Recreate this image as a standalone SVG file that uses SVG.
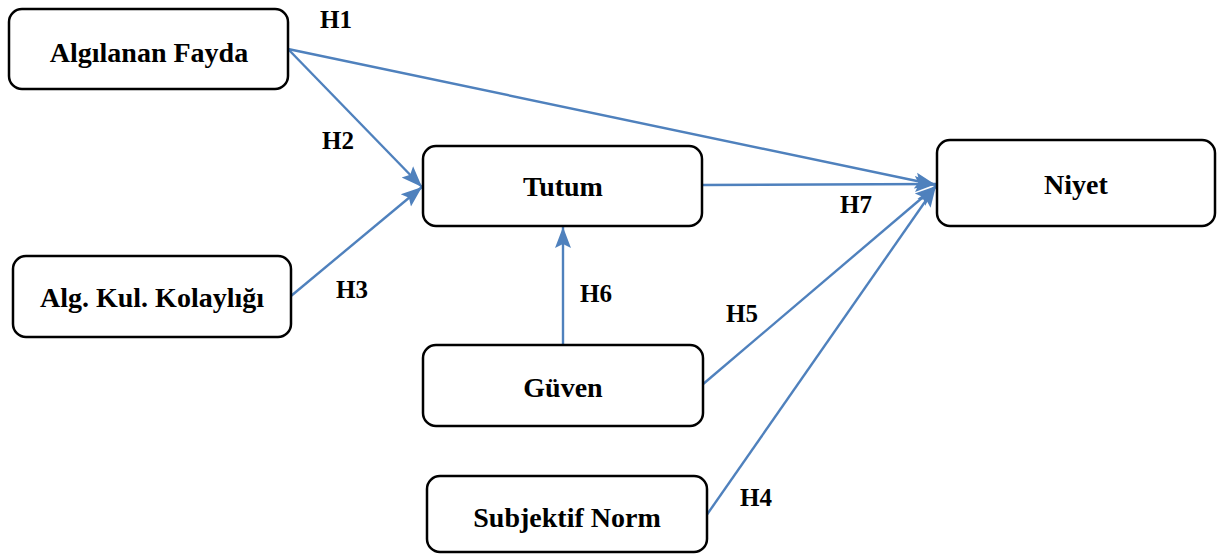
<svg xmlns="http://www.w3.org/2000/svg" width="1220" height="554" viewBox="0 0 1220 554">
<style>
.box{fill:#fff;stroke:#000;stroke-width:2.5}
.t{font-family:"Liberation Serif","Times New Roman",serif;font-weight:bold;font-size:28px;fill:#000;text-anchor:middle}
.h{font-family:"Liberation Serif","Times New Roman",serif;font-weight:bold;font-size:25px;fill:#000}
.c{stroke:#4F81BD;stroke-width:2.4;fill:none}
</style>
<defs>
<marker id="ah" markerUnits="userSpaceOnUse" markerWidth="22" markerHeight="20" viewBox="0 0 22 20" refX="21" refY="10" orient="auto">
<path d="M0,2 L21,10 L0,18 L4,10 Z" fill="#4F81BD"/>
</marker>
</defs>
<rect width="1220" height="554" fill="#fff"/>
<g id="connectors">
<line class="c" x1="288" y1="49" x2="936" y2="185" marker-end="url(#ah)"/>
<line class="c" x1="288" y1="49" x2="422" y2="187" marker-end="url(#ah)"/>
<line class="c" x1="291" y1="296" x2="422" y2="187" marker-end="url(#ah)"/>
<line class="c" x1="702" y1="185" x2="936" y2="184" marker-end="url(#ah)"/>
<line class="c" x1="563" y1="345" x2="563" y2="227" marker-end="url(#ah)"/>
<line class="c" x1="702" y1="385" x2="936" y2="186" marker-end="url(#ah)"/>
<line class="c" x1="706" y1="516" x2="936" y2="186" marker-end="url(#ah)"/>
<text class="h" x="320" y="28">H1</text>
<text class="h" x="322" y="149">H2</text>
<text class="h" x="336" y="298">H3</text>
<text class="h" x="580" y="302">H6</text>
<text class="h" x="726" y="322">H5</text>
<text class="h" x="840" y="213">H7</text>
<text class="h" x="740" y="506">H4</text>
</g>
<g id="algilanan-fayda">
<rect class="box" x="9" y="9" width="279" height="80" rx="13"/>
<text class="t" x="149" y="62">Algılanan Fayda</text>
</g>
<g id="tutum">
<rect class="box" x="423" y="146" width="279" height="80" rx="13"/>
<text class="t" x="563" y="196">Tutum</text>
</g>
<g id="niyet">
<rect class="box" x="937" y="140" width="278" height="86" rx="13"/>
<text class="t" x="1076" y="194">Niyet</text>
</g>
<g id="alg-kul-kolayligi">
<rect class="box" x="13" y="256" width="278" height="81" rx="13"/>
<text class="t" x="152" y="307">Alg. Kul. Kolaylığı</text>
</g>
<g id="guven">
<rect class="box" x="423" y="345" width="280" height="81" rx="13"/>
<text class="t" x="563" y="397">Güven</text>
</g>
<g id="subjektif-norm">
<rect class="box" x="427" y="476" width="280" height="76" rx="13"/>
<text class="t" x="567" y="527">Subjektif Norm</text>
</g>
</svg>
